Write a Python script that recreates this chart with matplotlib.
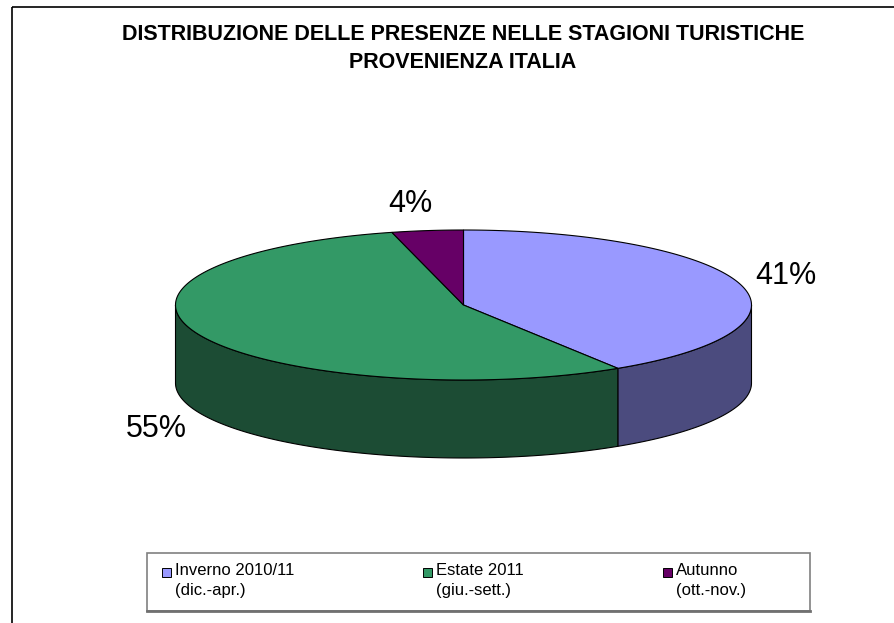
import numpy as np
import matplotlib.pyplot as plt
from matplotlib.patches import Polygon, Rectangle

plt.rcParams['font.family'] = ['Liberation Sans', 'DejaVu Sans']

# dati
categories = ["Inverno 2010/11\n(dic.-apr.)", "Estate 2011\n(giu.-sett.)", "Autunno\n(ott.-nov.)"]
values = [41, 55, 4]
pct_labels = ["41%", "55%", "4%"]
top_colors = ["#9999FF", "#339966", "#660066"]
side_colors = ["#4B4B7E", "#1C4C34", "#330033"]

title_lines = ["DISTRIBUZIONE DELLE PRESENZE NELLE STAGIONI TURISTICHE",
               "PROVENIENZA ITALIA"]

# geometria della torta (pixel)
W, H = 895, 623
cx, cy = 463.5, 305
rx, ry = 288, 75
depth = 78
label_xy = [(786, 276), (156, 429), (410, 204)]
legend_x = [162, 423, 663]


def ellipse_pts(a, b, dy=0, n=200):
    t = np.radians(np.linspace(a, b, n))
    return np.column_stack([cx + rx * np.sin(t), cy - ry * np.cos(t) + dy])


fig = plt.figure(figsize=(W / 100, H / 100), dpi=100)
ax = fig.add_axes([0, 0, 1, 1])
ax.set_xlim(0, W)
ax.set_ylim(H, 0)
ax.axis('off')

fracs = np.array(values, dtype=float) / np.sum(values)
bounds = np.concatenate([[0], np.cumsum(fracs) * 360])

# pareti laterali (solo la metà anteriore è visibile)
for i in range(len(values)):
    a, b = max(bounds[i], 90), min(bounds[i + 1], 270)
    if b <= a:
        continue
    top = ellipse_pts(a, b)
    bot = ellipse_pts(b, a, dy=depth)
    ax.add_patch(Polygon(np.vstack([top, bot]), closed=True, facecolor=side_colors[i],
                         edgecolor='black', linewidth=0.8))

# spicchi superiori
for i in range(len(values)):
    arc = ellipse_pts(bounds[i], bounds[i + 1])
    ax.add_patch(Polygon(np.vstack([[cx, cy], arc]), closed=True, facecolor=top_colors[i],
                         edgecolor='black', linewidth=0.8))

for (x, y), lab in zip(label_xy, pct_labels):
    ax.text(x, y, lab, fontsize=22, ha='center', va='center')

ax.text(463, 35, title_lines[0], fontsize=15.5, fontweight='bold', ha='center', va='center')
ax.text(463, 62, title_lines[1], fontsize=15.5, fontweight='bold', ha='center', va='center')

# cornice esterna
ax.add_patch(Rectangle((12, 7), 1000, 1000, fill=False, edgecolor='black', linewidth=1.2))

# legenda
ax.add_patch(Rectangle((147, 553), 663, 58, facecolor='white', edgecolor='#808080', linewidth=1.2))
ax.plot([147, 810], [611, 611], color='#707070', linewidth=2)
for x, lab, col in zip(legend_x, categories, top_colors):
    ax.add_patch(Rectangle((x, 568), 9, 9, facecolor=col, edgecolor='black', linewidth=0.7))
    ax.text(x + 13, 563, lab, fontsize=12, ha='left', va='top', linespacing=1.4)

fig.savefig('out.png', dpi=100)
